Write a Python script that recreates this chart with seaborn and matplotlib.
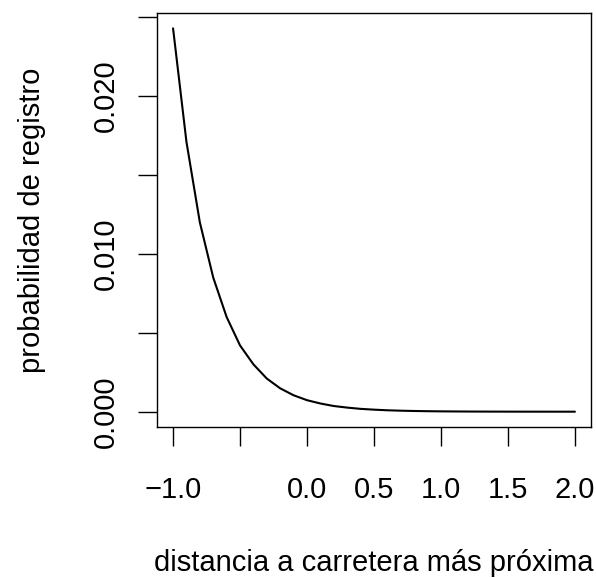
import matplotlib
matplotlib.use("Agg")
import matplotlib.pyplot as plt
import numpy as np
import pandas as pd
import seaborn as sns

# valores (paso 0.1)
distancia = [-1.0, -0.9, -0.8, -0.7, -0.6, -0.5, -0.4, -0.3, -0.2, -0.1,
             0.0, 0.1, 0.2, 0.3, 0.4, 0.5, 0.6, 0.7, 0.8, 0.9,
             1.0, 1.1, 1.2, 1.3, 1.4, 1.5, 1.6, 1.7, 1.8, 1.9, 2.0]
probabilidad = [0.0243, 0.0171, 0.0120, 0.0085, 0.0060, 0.0042, 0.0030, 0.0021,
                0.00148, 0.00104, 0.00073, 0.00052, 0.00036, 0.00026, 0.00018,
                0.00013, 0.00009, 0.000064, 0.000045, 0.000032, 0.000022,
                0.000016, 0.000011, 0.0000078, 0.0000055, 0.0000039, 0.0000027,
                0.0000019, 0.0000014, 0.0000010, 0.0000007]

x_ticks = [-1.0, -0.5, 0.0, 0.5, 1.0, 1.5, 2.0]
x_labels = ["\u22121.0", "", "0.0", "0.5", "1.0", "1.5", "2.0"]
y_ticks = [0.000, 0.005, 0.010, 0.015, 0.020, 0.025]
y_labels = ["0.000", "", "0.010", "", "0.020", ""]

df = pd.DataFrame({"distancia": distancia, "probabilidad": probabilidad})

sns.set_style("white")
plt.rcParams["font.family"] = ["Liberation Sans", "DejaVu Sans"]
plt.rcParams["text.color"] = "black"
plt.rcParams["axes.labelcolor"] = "black"

fig = plt.figure(figsize=(5.96, 5.78), dpi=100)
ax = fig.add_axes([0.2634, 0.2612, 0.7282, 0.7163])

sns.lineplot(data=df, x="distancia", y="probabilidad", color="black",
             linewidth=1.5, ax=ax)

# limites como R (4% de expansion)
xr = max(distancia) - min(distancia)
yr = max(probabilidad) - min(probabilidad)
ax.set_xlim(min(distancia) - 0.04 * xr, max(distancia) + 0.04 * xr)
ax.set_ylim(min(probabilidad) - 0.04 * yr, max(probabilidad) + 0.04 * yr)

ax.set_xticks(x_ticks)
ax.set_xticklabels(x_labels)
ax.set_yticks(y_ticks)
ax.set_yticklabels(y_labels, rotation=90, va="center")

for s in ax.spines.values():
    s.set_visible(True)
    s.set_color("black")
    s.set_linewidth(1.0)

ax.tick_params(axis="both", direction="out", length=14, width=1.0,
               colors="black", labelsize=21, bottom=True, left=True)
ax.tick_params(axis="x", pad=21)
ax.tick_params(axis="y", pad=13)

ax.set_xlabel("distancia a carretera más próxima", fontsize=21, labelpad=33)
ax.set_ylabel("probabilidad de registro", fontsize=21, labelpad=33)

fig.savefig("out.png", dpi=100)
